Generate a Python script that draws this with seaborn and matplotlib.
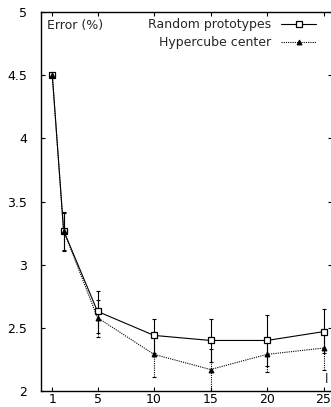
import pandas as pd
import matplotlib
matplotlib.use("Agg")
import matplotlib.pyplot as plt
import seaborn as sns

# data
x = [1, 2, 5, 10, 15, 20, 25]
random_err = [4.50, 3.27, 2.63, 2.44, 2.40, 2.40, 2.47]
random_lo = [4.50, 3.12, 2.46, 2.30, 2.23, 2.20, 2.30]
random_hi = [4.50, 3.42, 2.79, 2.57, 2.57, 2.60, 2.65]
hyper_err = [4.50, 3.27, 2.58, 2.29, 2.17, 2.29, 2.34]
hyper_lo = [4.50, 3.11, 2.43, 2.11, 2.00, 2.15, 2.17]
hyper_hi = [4.50, 3.41, 2.72, 2.45, 2.33, 2.43, 2.47]
x_ticks = [1, 5, 10, 15, 20, 25]
y_ticks = [2, 2.5, 3, 3.5, 4, 4.5, 5]
y_labels = ["2", "2.5", "3", "3.5", "4", "4.5", "5"]

sns.set_style("ticks")
plt.rcParams['font.family'] = ['DejaVu Sans']
plt.rcParams['font.size'] = 9

fig = plt.figure(figsize=(3.31, 4.07), dpi=100)
ax = fig.add_axes([41 / 331, 16 / 407, 291 / 331, 379 / 407])

df = pd.DataFrame({"x": x, "random": random_err, "hyper": hyper_err})

# -------- error bars --------
ax.errorbar(x, random_err,
            yerr=[[m - l for m, l in zip(random_err, random_lo)],
                  [h - m for m, h in zip(random_err, random_hi)]],
            fmt='none', ecolor='black', elinewidth=0.8, capsize=1.5, capthick=0.8)
eb = ax.errorbar(x, hyper_err,
                 yerr=[[m - l for m, l in zip(hyper_err, hyper_lo)],
                       [h - m for m, h in zip(hyper_err, hyper_hi)]],
                 fmt='none', ecolor='black', elinewidth=0.8, capsize=1.5, capthick=0.8)
for c in eb[2]:
    c.set_linestyle((0, (1, 1)))

# -------- lines --------
sns.lineplot(data=df, x="x", y="random", ax=ax, color='black', linewidth=0.8,
             marker='s', markersize=5, markerfacecolor='white', markeredgecolor='black',
             markeredgewidth=0.9, label="Random prototypes")
sns.lineplot(data=df, x="x", y="hyper", ax=ax, color='black', linewidth=0.8,
             linestyle=(0, (1, 1)), marker='^', markersize=3.5,
             markerfacecolor='black', markeredgecolor='black', label="Hypercube center")

ax.set_xlim(0, 25.75)
ax.set_ylim(2, 5)
ax.set_xticks(x_ticks)
ax.set_yticks(y_ticks)
ax.set_yticklabels(y_labels)
ax.set_xlabel("")
ax.set_ylabel("")
ax.tick_params(direction='in', length=3, width=0.8, top=True, right=True, colors='black')
ax.tick_params(axis='y', pad=10)
ax.tick_params(axis='x', pad=1.5)
for s in ax.spines.values():
    s.set_linewidth(1.0)
    s.set_color('black')

ax.text(0.5, 4.895, "Error (%)", ha='left', va='center')
ax.text(25.15, 2.09, "l", ha='left', va='center')

ax.legend(loc='upper right', bbox_to_anchor=(316 / 331, 389 / 407),
          bbox_transform=fig.transFigure, frameon=False, markerfirst=False,
          borderaxespad=0, borderpad=0, handlelength=2.8, handletextpad=0.8,
          labelspacing=0.4)

fig.savefig("out.png", dpi=100)
